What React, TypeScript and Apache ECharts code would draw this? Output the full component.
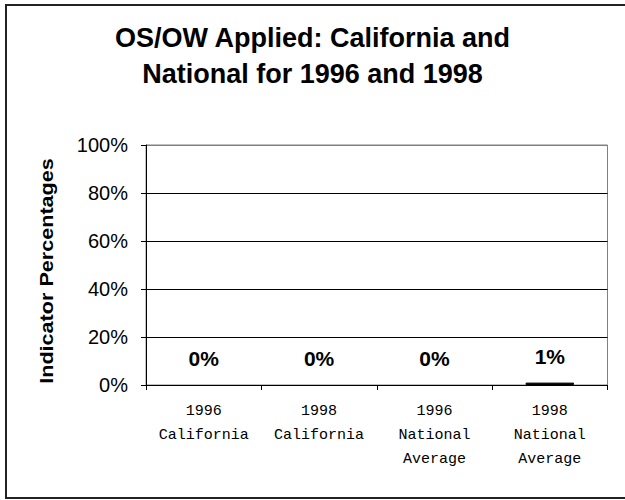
import React, { useEffect, useRef } from "react";
import * as echarts from "echarts";

const categories = ["1996\nCalifornia", "1998\nCalifornia", "1996\nNational\nAverage", "1998\nNational\nAverage"];
const values = [0, 0, 0, 1];
const yTicks = [0, 20, 40, 60, 80, 100];
const titleText = "OS/OW Applied: California and\nNational for 1996 and 1998";
const yAxisTitle = "Indicator Percentages";

export default function App() {
  const ref = useRef<HTMLDivElement>(null);
  useEffect(() => {
    if (!ref.current) return;
    const chart = echarts.init(ref.current, undefined, { renderer: "svg" });
    chart.setOption({
      animation: false,
      backgroundColor: "#ffffff",
      title: {
        text: titleText,
        left: "center",
        top: 15,
        textStyle: {
          fontFamily: "Liberation Sans, Arial, sans-serif",
          fontSize: 27,
          fontWeight: "bold",
          color: "#000",
          lineHeight: 36,
        },
      },
      graphic: [
        {
          type: "rect",
          shape: { x: 6, y: 5, width: 700, height: 493 },
          style: { fill: "none", stroke: "#222", lineWidth: 2 },
          silent: true,
        },
        {
          type: "text",
          x: 47,
          y: 271,
          rotation: Math.PI / 2,
          scaleX: 1.2,
          style: {
            text: yAxisTitle,
            fontFamily: "Liberation Sans, Arial, sans-serif",
            fontSize: 18,
            fontWeight: "bold",
            fill: "#000",
            textAlign: "center",
            textVerticalAlign: "middle",
          },
        },
      ],
      grid: {
        left: 146,
        right: 17.5,
        top: 145,
        bottom: 115,
        show: true,
        borderColor: "#808080",
        borderWidth: 1,
        backgroundColor: "transparent",
      },
      xAxis: {
        type: "category",
        data: categories,
        axisLine: { show: true, lineStyle: { color: "#000", width: 1 } },
        axisTick: { show: true, alignWithLabel: false, length: 5, lineStyle: { color: "#000" } },
        axisLabel: {
          interval: 0,
          margin: 14,
          fontFamily: "Liberation Mono, Courier New, monospace",
          fontSize: 15,
          lineHeight: 24,
          color: "#000",
        },
        splitLine: { show: false },
      },
      yAxis: {
        type: "value",
        min: yTicks[0],
        max: yTicks[yTicks.length - 1],
        interval: 20,
        axisLine: { show: true, lineStyle: { color: "#000", width: 1 } },
        axisTick: { show: true, length: 5, lineStyle: { color: "#000" } },
        axisLabel: {
          formatter: "{value}%",
          margin: 18,
          fontFamily: "Liberation Sans, Arial, sans-serif",
          fontSize: 20,
          color: "#000",
        },
        splitLine: {
          show: true,
          lineStyle: { color: ["#000", "#000", "#000", "#000", "#000", "#808080"], width: 1 },
        },
      },
      series: [
        {
          type: "bar",
          data: values.map((v) => ({
            value: v,
            itemStyle: v > 0 ? { borderColor: "#000", borderWidth: 1 } : { borderWidth: 0 },
          })),
          barWidth: "42%",
          itemStyle: { color: "#1c1c6b" },
          label: {
            show: true,
            position: "top",
            distance: 16,
            formatter: (p: any) => `${Math.round(p.value)}%`,
            fontFamily: "Liberation Sans, Arial, sans-serif",
            fontSize: 21,
            fontWeight: "bold",
            color: "#000",
          },
        },
      ],
    });
    return () => chart.dispose();
  }, []);
  return <div ref={ref} style={{ position: "absolute", left: 0, top: 0, width: 625, height: 500 }} />;
}
